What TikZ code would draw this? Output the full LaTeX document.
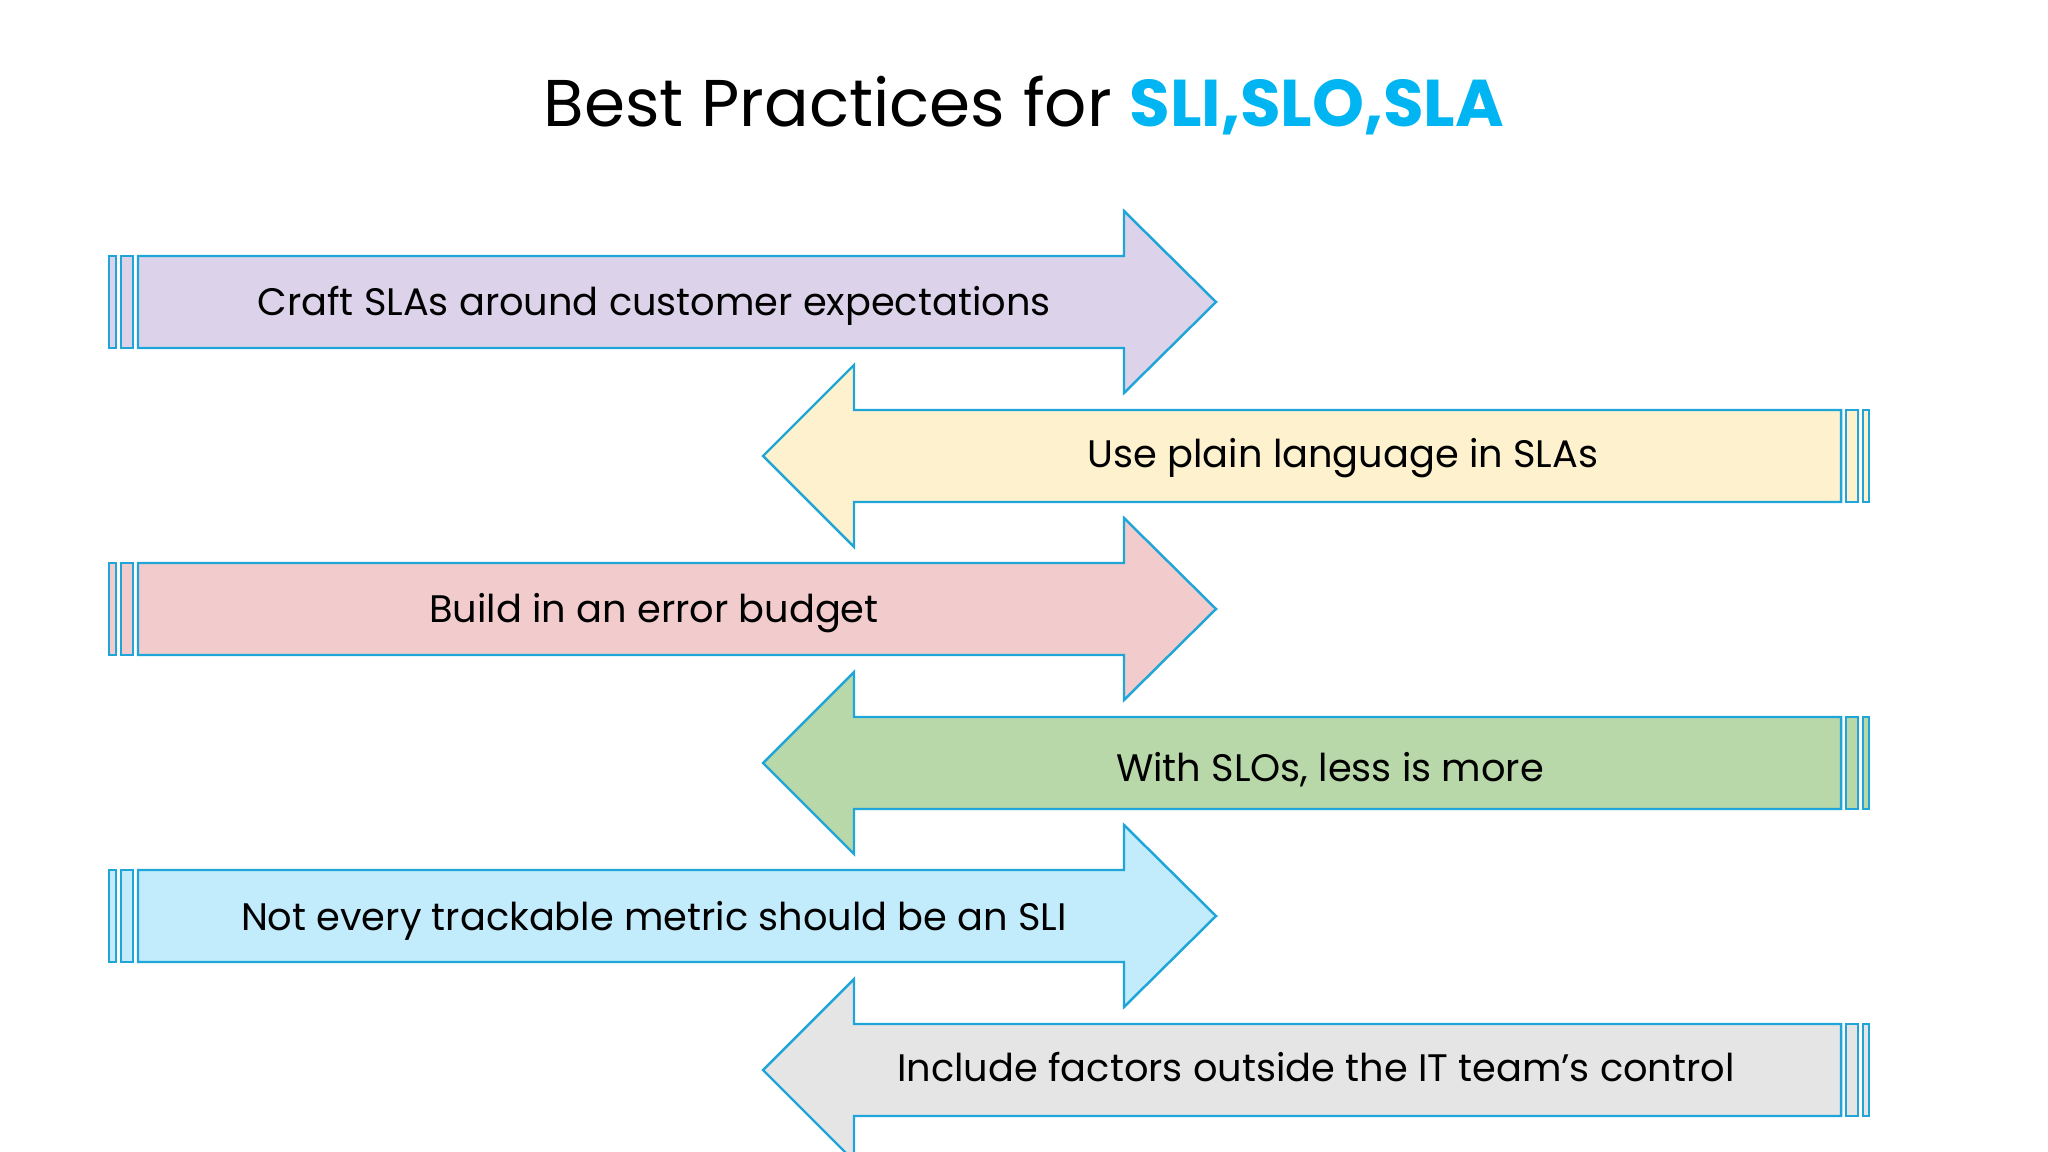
\documentclass[tikz,border=0pt]{standalone}
\usepackage{fontspec}
\setmainfont{Poppins}
\usetikzlibrary{positioning}
\definecolor{edgeblue}{HTML}{1FA5D8}
\definecolor{titleblue}{HTML}{00B5F1}
\definecolor{lavender}{HTML}{DCD3EA}
\definecolor{cream}{HTML}{FDF1CE}
\definecolor{rose}{HTML}{F2CCCC}
\definecolor{sage}{HTML}{B8D8A9}
\definecolor{sky}{HTML}{C2EBFC}
\definecolor{mist}{HTML}{E6E5E6}
\tikzstyle{band}=[draw=edgeblue,line width=.7pt,line join=miter]
\tikzstyle{tip}=[font=\fontsize{10.9}{13}\selectfont,anchor=base,inner sep=0pt]
\tikzstyle{heading}=[font=\fontsize{18.8}{23}\selectfont,anchor=base,inner sep=0pt]
% right pointing arrow: #1 = centre y, #2 = fill
\newcommand{\rightband}[2]{%
  \draw[band,fill=#2] (109,#1-46) rectangle (116,#1+46);
  \draw[band,fill=#2] (121,#1-46) rectangle (133,#1+46);
  \draw[band,fill=#2] (138,#1-46) -- (1124,#1-46) -- (1124,#1-91) -- (1216,#1)
    -- (1124,#1+91) -- (1124,#1+46) -- (138,#1+46) -- cycle;}
% left pointing arrow
\newcommand{\leftband}[2]{%
  \draw[band,fill=#2] (1863,#1-46) rectangle (1869,#1+46);
  \draw[band,fill=#2] (1846,#1-46) rectangle (1858,#1+46);
  \draw[band,fill=#2] (1841,#1-46) -- (854,#1-46) -- (854,#1-91) -- (763,#1)
    -- (854,#1+91) -- (854,#1+46) -- (1841,#1+46) -- cycle;}

\begin{document}
\begin{tikzpicture}[x=0.01cm,y=-0.01cm]
    \useasboundingbox (0,0) rectangle (2048,1152);
    \clip (0,0) rectangle (2048,1152);

    \node[heading] (title) at (1024,127) {Best Practices for \textcolor{titleblue}{\bfseries SLI,SLO,SLA}};

    \rightband{302}{lavender}
    \leftband{456}{cream}
    \rightband{609}{rose}
    \leftband{763}{sage}
    \rightband{916}{sky}
    \leftband{1070}{mist}

    \node[tip] (craft) at (654,316) {Craft SLAs around customer expectations};
    \node[tip] (plain) at (1343,468) {Use plain language in SLAs};
    \node[tip] (budget) at (654,623) {Build in an error budget};
    \node[tip] (lessmore) at (1330,781) {With SLOs, less is more};
    \node[tip] (metric) at (654,930) {Not every trackable metric should be an SLI};
    \node[tip] (factors) at (1316,1081) {Include factors outside the IT team’s control};
  \end{tikzpicture}
\end{document}
